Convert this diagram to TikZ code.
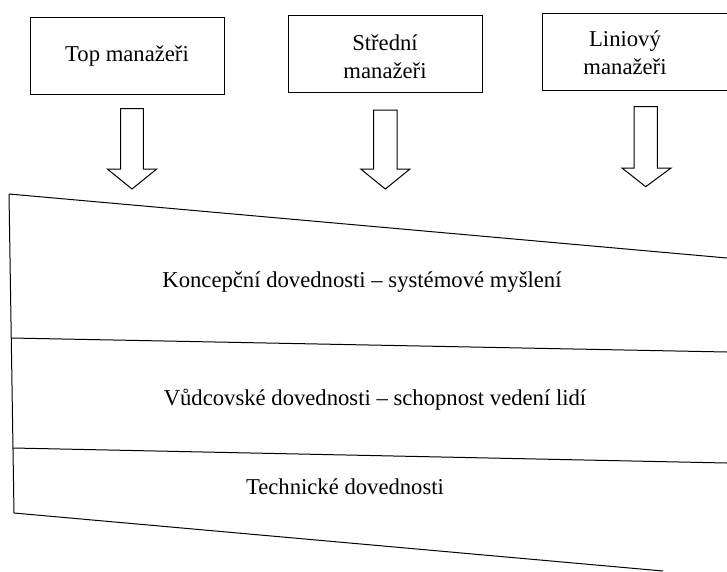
\documentclass[tikz,border=0pt]{standalone}
\usepackage{fontspec}
\setmainfont{Liberation Serif}
\begin{document}
\begin{tikzpicture}[x=0.75pt,y=0.75pt,yscale=-1,xscale=1,
  outline/.style={line width=0.75},
  lbl/.style={inner sep=0.75pt, align=center, font=\fontsize{17}{21}\selectfont}]
\useasboundingbox (0,0) rectangle (727,571);

%Shape: Rectangle
\draw [outline] (30,17) -- (224,17) -- (224,94) -- (30,94) -- cycle ;
%Shape: Rectangle
\draw [outline] (288,15) -- (482,15) -- (482,92) -- (288,92) -- cycle ;
%Shape: Rectangle
\draw [outline] (740,13) -- (542,13) -- (542,90) -- (740,90) ;

%Shape: Down Arrow
\draw [outline] (120.7,108.7) -- (143.3,108.7) -- (143.3,169) -- (156.7,169) -- (132,189) -- (107.3,169) -- (120.7,169) -- cycle ;
%Shape: Down Arrow
\draw [outline] (373.7,110) -- (397,110) -- (397,169) -- (410,169) -- (385.3,189) -- (360.7,169) -- (373.7,169) -- cycle ;
%Shape: Down Arrow
\draw [outline] (634,106.7) -- (657.4,106.7) -- (657.4,168) -- (671,168) -- (645.7,186.7) -- (622,168) -- (634,168) -- cycle ;

%Straight Lines
\draw [outline] (9,194) -- (727,258) ;
%Straight Lines
\draw [outline] (9,194) -- (14,513) ;
%Straight Lines
\draw [outline] (11,338) -- (727,352) ;
%Straight Lines
\draw [outline] (13,448) -- (727,463) ;
%Straight Lines
\draw [outline] (14,513) -- (663,571) ;

% Text Node
\draw (127,56) node [lbl] (top) {Top manažeři};
% Text Node
\draw (385,57) node [lbl] (stredni) {Střední\\manažeři};
% Text Node
\draw (625,53) node [lbl] (liniovy) {Liniový\\manažeři};
% Text Node
\draw (362,282) node [lbl] (koncepcni) {Koncepční dovednosti – systémové myšlení};
% Text Node
\draw (375,400) node [lbl] (vudcovske) {Vůdcovské dovednosti – schopnost vedení lidí};
% Text Node
\draw (345,487) node [lbl] (technicke) {Technické dovednosti};

\end{tikzpicture}
\end{document}
